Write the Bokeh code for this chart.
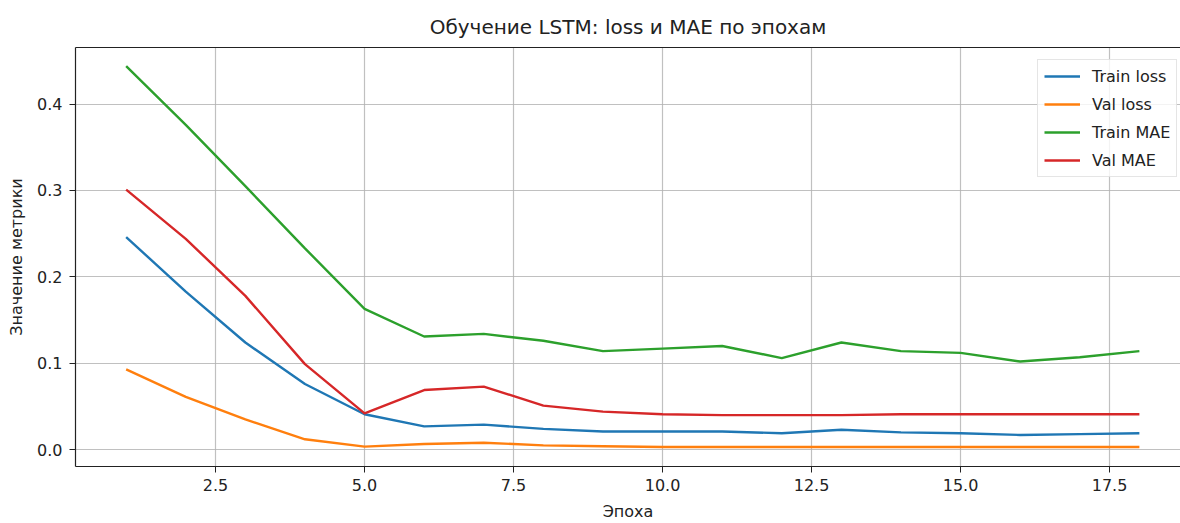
from bokeh.plotting import figure
from bokeh.models import (FixedTicker, PrintfTickFormatter, LinearAxis, Legend,
                          LegendItem, Range1d)
from bokeh.embed import file_html
from bokeh.resources import INLINE

epochs = list(range(1, 19))
train_loss = [0.246, 0.183, 0.124, 0.076, 0.041, 0.027, 0.029, 0.024, 0.021, 0.021,
              0.021, 0.019, 0.023, 0.020, 0.019, 0.017, 0.018, 0.019]
val_loss = [0.093, 0.061, 0.035, 0.012, 0.0035, 0.0066, 0.008, 0.005, 0.004, 0.003,
            0.003, 0.003, 0.003, 0.003, 0.003, 0.003, 0.003, 0.003]
train_mae = [0.444, 0.376, 0.305, 0.233, 0.163, 0.131, 0.134, 0.126, 0.114, 0.117,
             0.120, 0.106, 0.124, 0.114, 0.112, 0.102, 0.107, 0.114]
val_mae = [0.301, 0.244, 0.178, 0.099, 0.042, 0.069, 0.073, 0.051, 0.044, 0.041,
           0.040, 0.040, 0.040, 0.041, 0.041, 0.041, 0.041, 0.041]

series_names = ["Train loss", "Val loss", "Train MAE", "Val MAE"]
series_values = [train_loss, val_loss, train_mae, val_mae]
colors = ["#1f77b4", "#ff7f0e", "#2ca02c", "#d62728"]

x_ticks = [2.5, 5.0, 7.5, 10.0, 12.5, 15.0, 17.5]
y_ticks = [0.0, 0.1, 0.2, 0.3, 0.4]

FONT = "DejaVu Sans"

p = figure(width=1180, height=523, output_backend="svg", toolbar_location=None,
           x_range=Range1d(0.15, 18.69), y_range=Range1d(-0.0195, 0.4655),
           title="Обучение LSTM: loss и MAE по эпохам",
           min_border_left=75, min_border_right=0, min_border_top=47,
           min_border_bottom=57)

p.title.align = "center"
p.title.text_font = FONT
p.title.text_font_size = "20px"
p.title.text_font_style = "normal"
p.title.text_color = "#222222"
p.title.standoff = 18

p.outline_line_color = None
p.background_fill_color = "white"
p.border_fill_color = "white"

for ax in (p.xaxis[0], p.yaxis[0]):
    ax.major_label_text_font = FONT
    ax.major_label_text_font_size = "16px"
    ax.major_label_text_color = "#222222"
    ax.axis_label_text_font = FONT
    ax.axis_label_text_font_size = "16px"
    ax.axis_label_text_font_style = "normal"
    ax.axis_label_text_color = "#222222"
    ax.major_tick_in = 0
    ax.major_tick_out = 6
    ax.minor_tick_line_color = None
    ax.axis_line_color = "#222222"
    ax.major_tick_line_color = "#222222"
    ax.axis_line_width = 1.2

p.xaxis[0].ticker = FixedTicker(ticks=x_ticks)
p.yaxis[0].ticker = FixedTicker(ticks=y_ticks)
p.xaxis[0].formatter = PrintfTickFormatter(format="%.1f")
p.yaxis[0].formatter = PrintfTickFormatter(format="%.1f")
p.xaxis[0].axis_label = "Эпоха"
p.yaxis[0].axis_label = "Значение метрики"
p.xaxis[0].major_label_standoff = 6
p.yaxis[0].major_label_standoff = 7
p.xaxis[0].axis_label_standoff = 8
p.yaxis[0].axis_label_standoff = 8

top = LinearAxis(major_tick_line_color=None, minor_tick_line_color=None,
                 major_label_text_font_size="0px", axis_line_color="#222222",
                 axis_line_width=1.2, ticker=FixedTicker(ticks=[]))
p.add_layout(top, "above")

p.grid.grid_line_color = "#b0b0b0"
p.grid.grid_line_width = 1.2
p.grid.grid_line_alpha = 0.8
p.xgrid.ticker = FixedTicker(ticks=x_ticks)
p.ygrid.ticker = FixedTicker(ticks=y_ticks)

items = []
for name, vals, c in zip(series_names, series_values, colors):
    r = p.line(epochs, vals, line_color=c, line_width=2.4)
    items.append(LegendItem(label=name, renderers=[r]))

legend = Legend(items=items, location=(962, 289))
legend.label_text_font = FONT
legend.label_text_font_size = "16px"
legend.label_text_color = "#222222"
legend.glyph_width = 36
legend.glyph_height = 20
legend.label_height = 20
legend.spacing = 8
legend.padding = 6
legend.margin = 0
legend.label_standoff = 12
legend.border_line_color = "#cccccc"
legend.border_line_width = 1
legend.background_fill_alpha = 0.8
p.add_layout(legend, "center")

open("out.html", "w").write(file_html(p, INLINE))
